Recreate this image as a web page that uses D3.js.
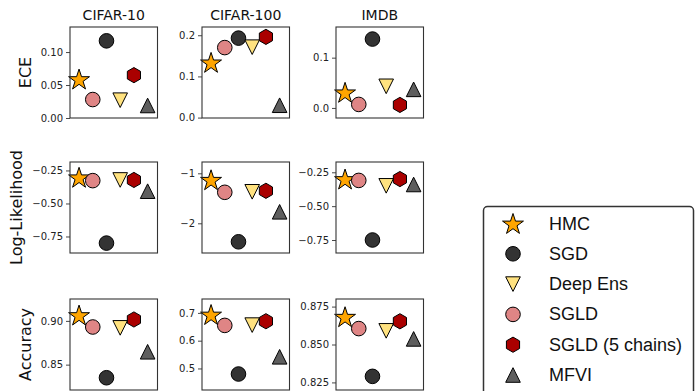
<!DOCTYPE html>
<html>
<head>
<meta charset="utf-8">
<script src="https://cdn.jsdelivr.net/npm/d3@7"></script>
<style>
  html, body { margin: 0; padding: 0; background: #fff; }
  svg { display: block; }
</style>
</head>
<body>
<svg id="chart" width="695" height="391"></svg>
<script>
// ---------------- DATA ----------------
const methods = ["HMC", "SGD", "Deep Ens", "SGLD", "SGLD (5 chains)", "MFVI"];
const xOrder = ["HMC", "SGLD", "SGD", "Deep Ens", "SGLD (5 chains)", "MFVI"];
const datasets = ["CIFAR-10", "CIFAR-100", "IMDB"];
const metrics = ["ECE", "Log-Likelihood", "Accuracy"];
const colors = ["#FFA500", "#333333", "#FFE27F", "#DF8585", "#AA0000", "#5E5E5E"];
const shapes = ["star", "circle", "triangleDown", "circle", "hexagon", "triangleUp"];

// values in legend order: HMC, SGD, Deep Ens, SGLD, SGLD (5 chains), MFVI
const eceCifar10  = [0.059, 0.117, 0.027, 0.028, 0.065, 0.019];
const eceCifar100 = [0.134, 0.193, 0.171, 0.170, 0.196, 0.030];
const eceImdb     = [0.031, 0.137, 0.043, 0.007, 0.006, 0.037];
const llCifar10   = [-0.302, -0.800, -0.322, -0.327, -0.322, -0.407];
const llCifar100  = [-1.13, -2.37, -1.37, -1.38, -1.35, -1.77];
const llImdb      = [-0.300, -0.750, -0.350, -0.310, -0.300, -0.340];
const accCifar10  = [0.9066, 0.835, 0.892, 0.893, 0.9016, 0.8647];
const accCifar100 = [0.694, 0.480, 0.656, 0.655, 0.670, 0.542];
const accImdb     = [0.8683, 0.829, 0.859, 0.8605, 0.8653, 0.8537];

// axis limits
const eceCifar10Lim  = [0, 0.138];
const eceCifar100Lim = [-0.001, 0.22];
const eceImdbLim     = [-0.02, 0.161];
const llCifar10Lim   = [-0.875, -0.186];
const llCifar100Lim  = [-2.594, -0.774];
const llImdbLim      = [-0.846, -0.174];
const accCifar10Lim  = [0.821, 0.925];
const accCifar100Lim = [0.4225, 0.75];
const accImdbLim     = [0.820, 0.880];

// tick values and labels
const eceCifar10Ticks  = [0, 0.05, 0.10];       const eceCifar10Labels  = ["0.00", "0.05", "0.10"];
const eceCifar100Ticks = [0, 0.1, 0.2];         const eceCifar100Labels = ["0.0", "0.1", "0.2"];
const eceImdbTicks     = [0, 0.1];              const eceImdbLabels     = ["0.0", "0.1"];
const llCifar10Ticks   = [-0.25, -0.50, -0.75]; const llCifar10Labels   = ["\u22120.25", "\u22120.50", "\u22120.75"];
const llCifar100Ticks  = [-1, -2];              const llCifar100Labels  = ["\u22121", "\u22122"];
const llImdbTicks      = [-0.25, -0.50, -0.75]; const llImdbLabels      = ["\u22120.25", "\u22120.50", "\u22120.75"];
const accCifar10Ticks  = [0.85, 0.90];          const accCifar10Labels  = ["0.85", "0.90"];
const accCifar100Ticks = [0.5, 0.6, 0.7];       const accCifar100Labels = ["0.5", "0.6", "0.7"];
const accImdbTicks     = [0.825, 0.850, 0.875]; const accImdbLabels     = ["0.825", "0.850", "0.875"];

const panels = [
  [eceCifar10, eceCifar10Lim, eceCifar10Ticks, eceCifar10Labels],
  [eceCifar100, eceCifar100Lim, eceCifar100Ticks, eceCifar100Labels],
  [eceImdb, eceImdbLim, eceImdbTicks, eceImdbLabels],
  [llCifar10, llCifar10Lim, llCifar10Ticks, llCifar10Labels],
  [llCifar100, llCifar100Lim, llCifar100Ticks, llCifar100Labels],
  [llImdb, llImdbLim, llImdbTicks, llImdbLabels],
  [accCifar10, accCifar10Lim, accCifar10Ticks, accCifar10Labels],
  [accCifar100, accCifar100Lim, accCifar100Ticks, accCifar100Labels],
  [accImdb, accImdbLim, accImdbTicks, accImdbLabels]
];

// ---------------- LAYOUT ----------------
const colLeft = [70, 202, 336];
const rowTop = [27, 162, 299];
const pw = 87.5, ph = 91;
const ylabelX = [25, 16, 25];
const FONT = "'DejaVu Sans', sans-serif";

function markerPath(shape) {
  const p = d3.path();
  if (shape === "circle") {
    const r = 7.3;
    p.moveTo(r, 0); p.arc(0, 0, r, 0, 2 * Math.PI); p.closePath();
  } else if (shape === "star") {
    const R = 11, r = R * 0.381966;
    for (let i = 0; i < 10; i++) {
      const a = -Math.PI / 2 + i * Math.PI / 5;
      const rad = i % 2 === 0 ? R : r;
      const x = rad * Math.cos(a), y = rad * Math.sin(a) + 1.0;
      if (i === 0) p.moveTo(x, y); else p.lineTo(x, y);
    }
    p.closePath();
  } else if (shape === "hexagon") {
    const R = 7.6;
    for (let i = 0; i < 6; i++) {
      const a = -Math.PI / 2 + i * Math.PI / 3;
      const x = R * Math.cos(a), y = R * Math.sin(a);
      if (i === 0) p.moveTo(x, y); else p.lineTo(x, y);
    }
    p.closePath();
  } else if (shape === "triangleUp") {
    const h = 7.3;
    p.moveTo(0, -h); p.lineTo(h, h); p.lineTo(-h, h); p.closePath();
  } else if (shape === "triangleDown") {
    const h = 7.3;
    p.moveTo(0, h); p.lineTo(h, -h); p.lineTo(-h, -h); p.closePath();
  }
  return p.toString();
}

const svg = d3.select("#chart");

const xPad = 0.66;
panels.forEach((pd, idx) => {
  const [vals, lim, ticks, labels] = pd;
  const row = Math.floor(idx / 3), col = idx % 3;
  const g = svg.append("g").attr("transform", `translate(${colLeft[col]},${rowTop[row]})`);

  const x = d3.scaleLinear().domain([-xPad, xOrder.length - 1 + 0.72]).range([0, pw]);
  const y = d3.scaleLinear().domain(lim).range([ph, 0]);

  // y axis
  const ax = g.append("g")
    .call(d3.axisLeft(y).tickValues(ticks).tickFormat((d, i) => labels[i]).tickSize(4).tickPadding(3));
  ax.select(".domain").remove();
  ax.selectAll(".tick line").attr("stroke", "#333").attr("stroke-width", 0.9);
  ax.selectAll(".tick text").attr("font-family", FONT).attr("font-size", 10).attr("fill", "#222");

  // markers
  methods.forEach((m, i) => {
    g.append("path")
      .attr("d", markerPath(shapes[i]))
      .attr("transform", `translate(${x(xOrder.indexOf(m))},${y(vals[i])})`)
      .attr("fill", colors[i])
      .attr("stroke", "#000")
      .attr("stroke-width", 1);
  });

  // frame
  g.append("rect").attr("x", 0).attr("y", 0).attr("width", pw).attr("height", ph)
    .attr("fill", "none").attr("stroke", "#333").attr("stroke-width", 1.1);

  if (row === 0) {
    g.append("text").attr("x", pw / 2).attr("y", -7).attr("text-anchor", "middle")
      .attr("font-family", FONT).attr("font-size", 14).attr("fill", "#111").text(datasets[col]);
  }
  if (col === 0) {
    svg.append("text")
      .attr("transform", `translate(${ylabelX[row]},${rowTop[row] + ph / 2}) rotate(-90)`)
      .attr("text-anchor", "middle").attr("dominant-baseline", "central")
      .attr("font-family", FONT).attr("font-size", 16).attr("fill", "#111").text(metrics[row]);
  }
});

// ---------------- LEGEND ----------------
const leg = svg.append("g");
leg.append("rect").attr("x", 483.5).attr("y", 206.5).attr("width", 210).attr("height", 200)
  .attr("rx", 4).attr("fill", "#fff").attr("stroke", "#333").attr("stroke-width", 1.5);
const ly = d3.scalePoint().domain(methods).range([223.5, 375]);
methods.forEach((m, i) => {
  leg.append("path").attr("d", markerPath(shapes[i]))
    .attr("transform", `translate(513,${ly(m)})`)
    .attr("fill", colors[i]).attr("stroke", "#000").attr("stroke-width", 1);
  leg.append("text").attr("x", 549).attr("y", ly(m)).attr("dominant-baseline", "central")
    .attr("font-family", "'Liberation Sans', Arial, sans-serif").attr("font-size", 18)
    .attr("fill", "#111").text(m);
});
</script>
</body>
</html>
